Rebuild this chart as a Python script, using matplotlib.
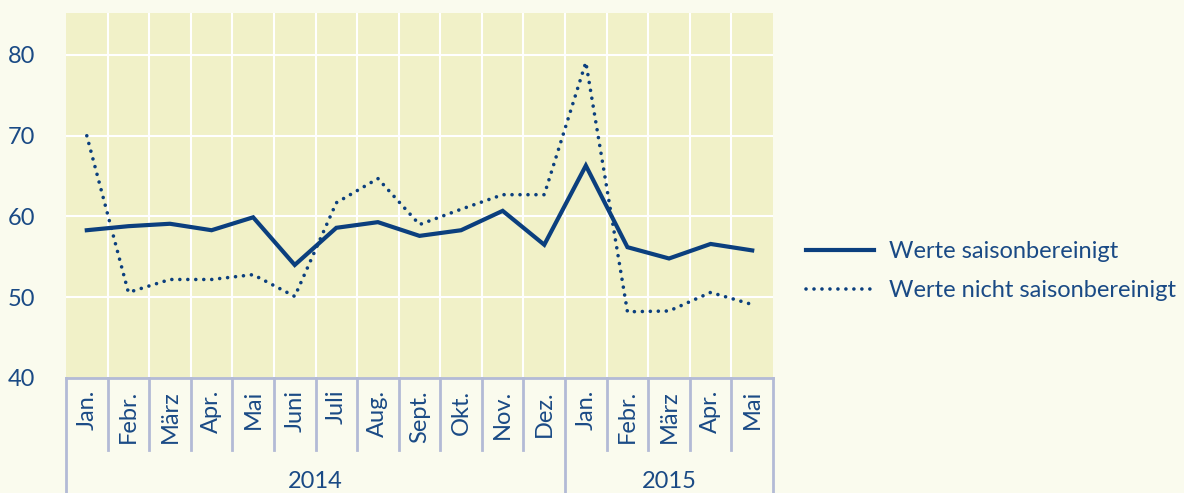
import matplotlib
matplotlib.use("Agg")
import matplotlib.pyplot as plt
import matplotlib.transforms as mtransforms

plt.rcParams['font.family'] = ['Lato', 'DejaVu Sans']

months = ["Jan.", "Febr.", "März", "Apr.", "Mai", "Juni", "Juli", "Aug.", "Sept.", "Okt.", "Nov.", "Dez.",
          "Jan.", "Febr.", "März", "Apr.", "Mai"]
years = ["2014", "2015"]
year_counts = [12, 5]
saisonbereinigt = [58.3, 58.8, 59.1, 58.3, 59.9, 54.0, 58.6, 59.3, 57.6, 58.3, 60.7, 56.5,
                   66.3, 56.2, 54.8, 56.6, 55.8]
nicht_saisonbereinigt = [70.0, 50.6, 52.2, 52.2, 52.8, 50.1, 61.7, 64.7, 59.0, 60.9, 62.7, 62.7,
                         79.1, 48.2, 48.3, 50.6, 49.1]
yticks = [40, 50, 60, 70, 80]

line_col = "#0b3f7e"
text_col = "#1a4a85"
fig_bg = "#fafbee"
ax_bg = "#f1f1c8"
sep_col = "#b3bad6"

fig = plt.figure(figsize=(11.84, 4.93), dpi=100, facecolor=fig_bg)
ax = fig.add_axes([66/1184, 115/493, (773-66)/1184, (378-13)/493])
ax.set_facecolor(ax_bg)

x = list(range(len(months)))
ax.plot(x, saisonbereinigt, color=line_col, lw=3.0, solid_joinstyle='miter',
        label="Werte saisonbereinigt")
ax.plot(x, nicht_saisonbereinigt, color=line_col, lw=2.6, linestyle=(0, (0.01, 2.2)),
        dash_capstyle='round', label="Werte nicht saisonbereinigt")

ax.set_xlim(-0.5, len(months) - 0.5)
ax.set_ylim(40, 85.2)
ax.set_yticks(yticks)
ax.set_yticklabels([str(v) for v in yticks], fontsize=17, color=text_col)
ax.tick_params(axis='y', length=0, pad=22)
ax.set_xticks([])

for s in ax.spines.values():
    s.set_visible(False)

# grid lines
for yv in yticks[1:]:
    ax.axhline(yv, color="white", lw=1.5, zorder=0.5)
for i in range(1, len(months)):
    ax.axvline(i - 0.5, color="white", lw=1.5, zorder=0.5)

# custom category axis
trans = mtransforms.blended_transform_factory(ax.transData, ax.transAxes)
axis_h = 365  # px of axes height
def fy(px):
    return -px / axis_h

ax.plot([-0.5, len(months) - 0.5], [0, 0], transform=trans, color=sep_col, lw=2, clip_on=False)
bounds_year = [-0.5]
c = -0.5
for n in year_counts:
    c += n
    bounds_year.append(c)
for i in range(len(months) + 1):
    xb = i - 0.5
    if xb in bounds_year:
        ax.plot([xb, xb], [0, fy(120)], transform=trans, color=sep_col, lw=2, clip_on=False)
    else:
        ax.plot([xb, xb], [0, fy(72)], transform=trans, color=sep_col, lw=2, clip_on=False)
for i, m in enumerate(months):
    ax.text(i, fy(12), m, transform=trans, rotation=90, ha='center', va='top',
            fontsize=17, color=text_col)
start = -0.5
for yr, n in zip(years, year_counts):
    ax.text(start + n / 2, fy(104), yr, transform=trans, ha='center', va='center',
            fontsize=17, color=text_col)
    start += n

leg = fig.legend(loc='center left', bbox_to_anchor=(806/1184, 1 - 271/493),
                 bbox_transform=fig.transFigure, frameon=False,
                 fontsize=17, handlelength=2.9, labelspacing=0.75, handletextpad=0.6,
                 borderpad=0, borderaxespad=0, labelcolor=text_col)

fig.savefig("out.png", dpi=100, facecolor=fig_bg)
